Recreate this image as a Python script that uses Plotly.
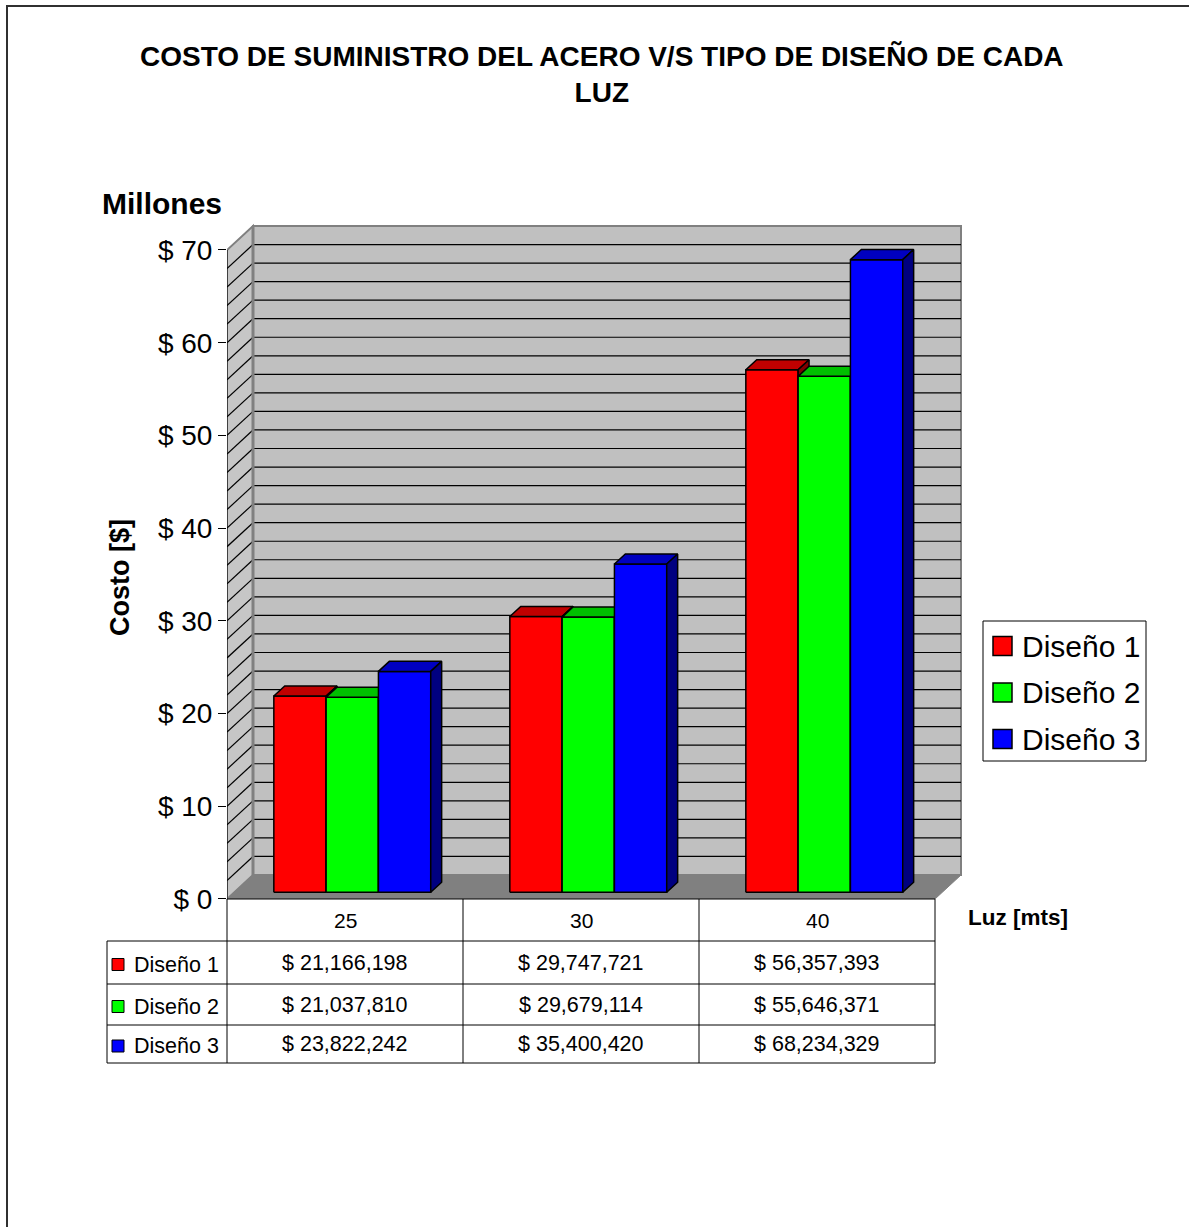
import plotly.graph_objects as go

# ---- data -------------------------------------------------------------
categories = ["25", "30", "40"]                      # Luz [mts]
series_names = ["Diseño 1", "Diseño 2", "Diseño 3"]
diseno_1 = [21166198, 29747721, 56357393]
diseno_2 = [21037810, 29679114, 55646371]
diseno_3 = [23822242, 35400420, 68234329]
y_tick_values = [0, 10, 20, 30, 40, 50, 60, 70]
y_tick_labels = ["$ 0", "$ 10", "$ 20", "$ 30", "$ 40", "$ 50", "$ 60", "$ 70"]

series_values = [diseno_1, diseno_2, diseno_3]

# ---- styling ----------------------------------------------------------
W = 1189
H = 1243
YS = 1243.0 / 1227.0        # vertical layout scale
FONT = "Liberation Sans, Arial, sans-serif"
front_colors = ["#ff0000", "#00ff00", "#0000ff"]
top_colors = ["#c00000", "#00c000", "#0000c0"]
side_colors = ["#800000", "#008000", "#000080"]

# plot-area geometry (layout pixels)
CAT0_PX, CAT_STEP_PX = 345.0, 236.0
X_MIN, X_MAX = -0.5, 2.72
Y_ZERO_PX, PX_PER_UNIT = 899.0, 649.0 / 70.0
Y_MAX = 73.8

# oblique depth of the 3-D box, in axis units
DEPTH_DX = 26.0 / CAT_STEP_PX
DEPTH_DY = 24.0 / PX_PER_UNIT
BAR_FRONT = 0.28        # bars start this far into the depth
BAR_DEPTH = 0.42        # and are this deep
BAR_W = 52.3 / CAT_STEP_PX


def px(xp):
    return xp / W


def py(yp):
    return 1 - (yp * YS) / H


fig = go.Figure()
shapes = []
annotations = []

# ---- walls and floor ----------------------------------------------------
L, R = -0.5, 2.5
TOP = 70
shapes.append(dict(type="path", xref="x", yref="y", layer="below",
                   path=f"M{L+DEPTH_DX},{DEPTH_DY} L{R+DEPTH_DX},{DEPTH_DY} "
                        f"L{R+DEPTH_DX},{TOP+DEPTH_DY} L{L+DEPTH_DX},{TOP+DEPTH_DY} Z",
                   fillcolor="#c0c0c0", line=dict(color="#808080", width=2)))
shapes.append(dict(type="path", xref="x", yref="y", layer="below",
                   path=f"M{L},0 L{L},{TOP} L{L+DEPTH_DX},{TOP+DEPTH_DY} "
                        f"L{L+DEPTH_DX},{DEPTH_DY} Z",
                   fillcolor="#c6c6c6", line=dict(color="#808080", width=2)))
shapes.append(dict(type="path", xref="x", yref="y", layer="below",
                   path=f"M{L},0 L{R},0 L{R+DEPTH_DX},{DEPTH_DY} L{L+DEPTH_DX},{DEPTH_DY} Z",
                   fillcolor="#808080", line=dict(color="#808080", width=1)))

# gridlines every 2 million on back and side walls
for v in range(2, 70, 2):
    shapes.append(dict(type="line", xref="x", yref="y", layer="below",
                       x0=L + DEPTH_DX, x1=R + DEPTH_DX, y0=v + DEPTH_DY, y1=v + DEPTH_DY,
                       line=dict(color="black", width=1.2)))
    shapes.append(dict(type="line", xref="x", yref="y", layer="below",
                       x0=L, x1=L + DEPTH_DX, y0=v, y1=v + DEPTH_DY,
                       line=dict(color="black", width=1.2)))
shapes.append(dict(type="line", xref="x", yref="y", layer="below",
                   x0=L + DEPTH_DX, x1=L + DEPTH_DX, y0=DEPTH_DY, y1=TOP + DEPTH_DY,
                   line=dict(color="#808080", width=3)))
# front value axis
shapes.append(dict(type="line", xref="x", yref="y", x0=L, x1=L, y0=0, y1=TOP,
                   line=dict(color="black", width=1)))

# ---- 3-D bars -----------------------------------------------------------
bdx = BAR_DEPTH * DEPTH_DX
bdy = BAR_DEPTH * DEPTH_DY
for i, _cat in enumerate(categories):
    center = i + BAR_FRONT * DEPTH_DX
    base = BAR_FRONT * DEPTH_DY
    for s, vals in enumerate(series_values):
        v = vals[i] / 1e6
        x0 = center - 1.5 * BAR_W + s * BAR_W
        x1 = x0 + BAR_W
        top = base + v
        faces = [
            ([x0, x1, x1, x0, x0], [base, base, top, top, base], front_colors[s]),
            ([x0, x1, x1 + bdx, x0 + bdx, x0], [top, top, top + bdy, top + bdy, top], top_colors[s]),
            ([x1, x1 + bdx, x1 + bdx, x1, x1], [base, base + bdy, top + bdy, top, base], side_colors[s]),
        ]
        for fx, fy, col in faces:
            fig.add_trace(go.Scatter(x=fx, y=fy, mode="lines", fill="toself",
                                     fillcolor=col, line=dict(color="black", width=1.5),
                                     hoverinfo="skip", showlegend=False))

# ---- data table ---------------------------------------------------------
col_edges = [227, 463, 699, 935]
row_edges = [899, 941, 984, 1025, 1063]
LABEL_LEFT = 107


def hline(x0, x1, y):
    shapes.append(dict(type="line", xref="paper", yref="paper",
                       x0=px(x0), x1=px(x1), y0=py(y), y1=py(y),
                       line=dict(color="black", width=1)))


def vline(x, y0, y1):
    shapes.append(dict(type="line", xref="paper", yref="paper",
                       x0=px(x), x1=px(x), y0=py(y0), y1=py(y1),
                       line=dict(color="black", width=1)))


hline(col_edges[0], col_edges[-1], row_edges[0])
for yr in row_edges[1:]:
    hline(LABEL_LEFT, col_edges[-1], yr)
for xc in col_edges:
    vline(xc, row_edges[0], row_edges[-1])
vline(LABEL_LEFT, row_edges[1], row_edges[-1])

for j, cat in enumerate(categories):
    cx = (col_edges[j] + col_edges[j + 1]) / 2
    annotations.append(dict(xref="paper", yref="paper", x=px(cx),
                            y=py((row_edges[0] + row_edges[1]) / 2),
                            text=cat, showarrow=False, xanchor="center", yanchor="middle",
                            font=dict(family=FONT, size=21, color="black")))
    for s, vals in enumerate(series_values):
        annotations.append(dict(xref="paper", yref="paper", x=px(cx),
                                y=py((row_edges[s + 1] + row_edges[s + 2]) / 2),
                                text=f"$ {vals[j]:,}", showarrow=False,
                                xanchor="center", yanchor="middle",
                                font=dict(family=FONT, size=21.5, color="black")))

for s, name in enumerate(series_names):
    yc = (row_edges[s + 1] + row_edges[s + 2]) / 2 + 2
    shapes.append(dict(type="rect", xref="paper", yref="paper",
                       x0=px(112), x1=px(124), y0=py(yc - 6), y1=py(yc + 6),
                       fillcolor=front_colors[s], line=dict(color="black", width=1)))
    annotations.append(dict(xref="paper", yref="paper", x=px(132), y=py(yc),
                            text=name, showarrow=False, xanchor="left", yanchor="middle",
                            font=dict(family=FONT, size=21.5, color="black")))

# ---- legend -------------------------------------------------------------
shapes.append(dict(type="rect", xref="paper", yref="paper",
                   x0=px(983), x1=px(1146), y0=py(621), y1=py(761),
                   fillcolor="white", line=dict(color="black", width=1)))
for s, name in enumerate(series_names):
    yc = 646 + s * 46.5
    shapes.append(dict(type="rect", xref="paper", yref="paper",
                       x0=px(993), x1=px(1012), y0=py(yc - 9.5), y1=py(yc + 9.5),
                       fillcolor=front_colors[s], line=dict(color="black", width=1.5)))
    annotations.append(dict(xref="paper", yref="paper", x=px(1020), y=py(yc),
                            text=name, showarrow=False, xanchor="left", yanchor="middle",
                            font=dict(family=FONT, size=30, color="black")))

# ---- titles -------------------------------------------------------------
annotations.append(dict(xref="paper", yref="paper", x=px(602), y=py(74),
                        text="COSTO DE SUMINISTRO DEL ACERO V/S TIPO DE DISEÑO DE CADA<br>LUZ",
                        showarrow=False, xanchor="center", yanchor="middle",
                        font=dict(family=FONT, size=28, color="black", weight="bold")))
annotations.append(dict(xref="paper", yref="paper", x=px(162), y=py(203),
                        text="Millones", showarrow=False, xanchor="center", yanchor="middle",
                        font=dict(family=FONT, size=30, color="black", weight="bold")))
annotations.append(dict(xref="paper", yref="paper", x=px(120), y=py(578),
                        text="Costo [$]", textangle=-90, showarrow=False,
                        xanchor="center", yanchor="middle",
                        font=dict(family=FONT, size=27, color="black", weight="bold")))
annotations.append(dict(xref="paper", yref="paper", x=px(966), y=py(917),
                        text="Luz [mts]", showarrow=False, xanchor="left", yanchor="middle",
                        font=dict(family=FONT, size=22.5, color="black", weight="bold")))

# outer frame (open at the right and bottom of the page)
shapes.append(dict(type="rect", xref="paper", yref="paper",
                   x0=px(7), x1=px(1200), y0=py(6), y1=py(1300),
                   line=dict(color="#303030", width=2)))

x_px0 = CAT0_PX + CAT_STEP_PX * X_MIN
x_px1 = CAT0_PX + CAT_STEP_PX * X_MAX
y_px_top = Y_ZERO_PX - PX_PER_UNIT * Y_MAX

fig.update_layout(
    width=W, height=H,
    margin=dict(l=0, r=0, t=0, b=0),
    paper_bgcolor="white", plot_bgcolor="rgba(0,0,0,0)",
    showlegend=False,
    shapes=shapes, annotations=annotations,
    xaxis=dict(domain=[px(x_px0), px(x_px1)], range=[X_MIN, X_MAX],
               showgrid=False, zeroline=False, showticklabels=False, ticks="",
               showline=False, fixedrange=True),
    yaxis=dict(domain=[py(Y_ZERO_PX), py(y_px_top)], range=[0, Y_MAX],
               tickmode="array", tickvals=y_tick_values, ticktext=y_tick_labels,
               ticks="outside", ticklen=8, tickcolor="black", tickwidth=1,
               tickfont=dict(family=FONT, size=28, color="black"),
               showgrid=False, zeroline=False, showline=False, fixedrange=True),
)

fig.write_html("out.html")
